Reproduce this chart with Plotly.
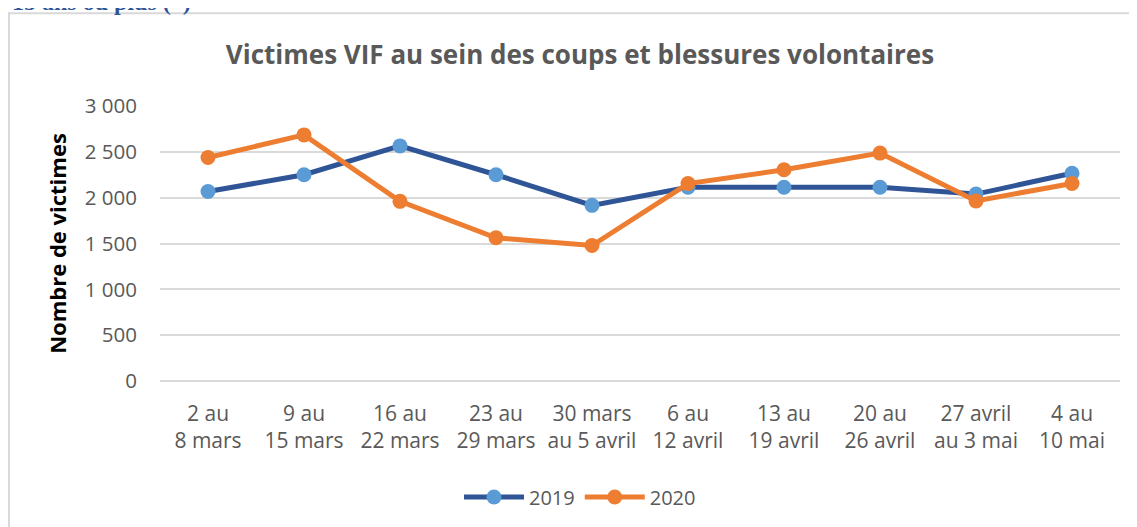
import plotly.graph_objects as go

categories = ["2 au<br>8 mars", "9 au<br>15 mars", "16 au<br>22 mars", "23 au<br>29 mars",
              "30 mars<br>au 5 avril", "6 au<br>12 avril", "13 au<br>19 avril", "20 au<br>26 avril",
              "27 avril<br>au 3 mai", "4 au<br>10 mai"]
values_2019 = [2068, 2250, 2565, 2250, 1916, 2114, 2114, 2114, 2039, 2266]
values_2020 = [2438, 2685, 1960, 1562, 1478, 2154, 2304, 2486, 1965, 2154]
y_tickvals = [0, 500, 1000, 1500, 2000, 2500, 3000]
y_ticktext = ["0", "500", "1 000", "1 500", "2 000", "2 500", "3 000"]

# page has an 8px body margin: figure coords = page coords - 8
OFF = 8
W, H = 1137 - OFF, 527 - OFF
L, R, T, B = 152, 17, 98, 145
pw, ph = W - L - R, H - T - B

def px_x(p):  # p in page pixels
    return (p - OFF - L) / pw

def px_y(p):
    return (H - B - (p - OFF)) / ph

fig = go.Figure()
fig.add_trace(go.Scatter(
    x=list(range(len(categories))), y=values_2019, name="2019", mode="lines+markers",
    line=dict(color="#2F5597", width=5),
    marker=dict(color="#5B9BD5", size=15, line=dict(width=0)),
))
fig.add_trace(go.Scatter(
    x=list(range(len(categories))), y=values_2020, name="2020", mode="lines+markers",
    line=dict(color="#ED7D31", width=5),
    marker=dict(color="#ED7D31", size=15, line=dict(width=0)),
))

font_family = "'Open Sans', Lato, sans-serif"

fig.update_layout(
    width=W, height=H,
    margin=dict(l=L, r=R, t=T, b=B),
    paper_bgcolor="white", plot_bgcolor="white",
    font=dict(family=font_family, color="#595959", size=20),
    title=dict(text="<b>Victimes VIF au sein des coups et blessures volontaires</b>",
               x=(580 - OFF) / W, xanchor="center", y=1 - (55 - OFF) / H, yanchor="middle",
               font=dict(size=26, color="#595959", family=font_family)),
    showlegend=True,
    legend=dict(orientation="h", x=px_x(580), xanchor="center", y=px_y(497), yanchor="middle",
                font=dict(size=20, color="#595959"), traceorder="normal", itemwidth=60),
    xaxis=dict(
        tickmode="array", tickvals=list(range(len(categories))), ticktext=categories,
        range=[-0.5, len(categories) - 0.5], showgrid=False, zeroline=False,
        showline=False, ticks="", ticklabelstandoff=18, tickfont=dict(size=21, color="#595959"),
    ),
    yaxis=dict(
        range=[0, 3000], tickmode="array", tickvals=y_tickvals, ticktext=y_ticktext,
        showgrid=True, gridcolor="#D9D9D9", gridwidth=1.5, zeroline=True,
        zerolinecolor="#D9D9D9", zerolinewidth=1.5, showline=False, ticks="",
        ticklabelstandoff=22, tickfont=dict(size=20.5, color="#595959"),
        title=dict(text="<b>Nombre de victimes</b>", font=dict(size=22, color="#000000"), standoff=12),
    ),
)

fig.add_shape(type="rect", xref="paper", yref="paper",
              x0=px_x(9), x1=px_x(1150), y0=px_y(540), y1=px_y(13),
              line=dict(color="#D9D9D9", width=2), fillcolor="rgba(0,0,0,0)", layer="below")

fig.add_annotation(text="<b>15 ans ou plus (*)</b>", xref="paper", yref="paper",
                   x=px_x(10), xanchor="left", y=px_y(17), yanchor="bottom", showarrow=False,
                   font=dict(family="'Liberation Serif', serif", size=24, color="#2F5597"))

fig.write_html("out.html")
